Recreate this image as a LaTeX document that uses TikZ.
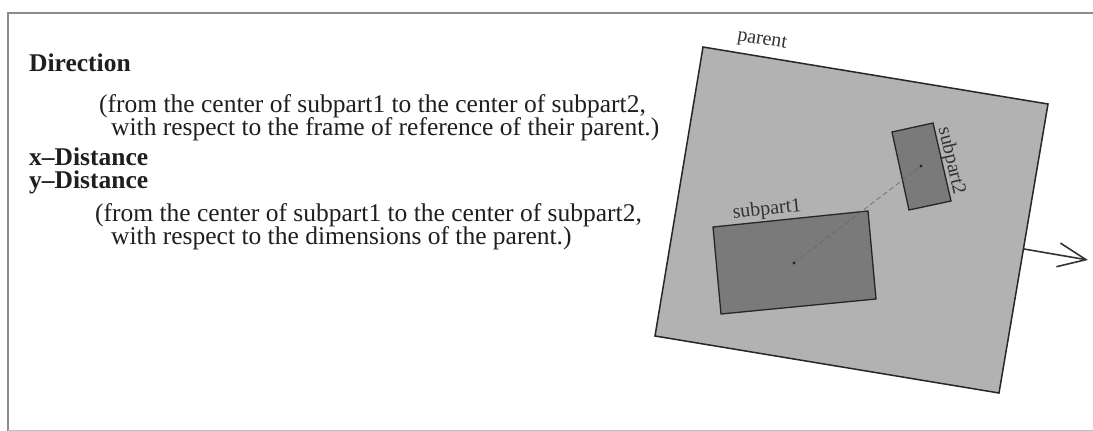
\documentclass[tikz,border=0pt]{standalone}
\usepackage{fontspec}
\setmainfont{Liberation Serif}
\usetikzlibrary{arrows.meta}
\begin{document}
\begin{tikzpicture}[x=1pt,y=-1pt,
  txt/.style={anchor=base west, inner sep=0pt, text=black!88, font=\fontsize{25.5}{28}\selectfont},
  hd/.style={anchor=base west, inner sep=0pt, text=black!88, font=\fontsize{25.5}{28}\selectfont\bfseries},
  lbl/.style={inner sep=0pt, text=black!80, font=\fontsize{20}{22}\selectfont},
  frameline/.style={draw=black!45, line width=1.2pt},
  parentbox/.style={fill=black!30, draw=black!85, line width=1.5pt, line join=miter},
  subbox/.style={fill=black!52, draw=black!85, line width=1.3pt},
  centerline/.style={draw=black!60, line width=0.6pt, dash pattern=on 5pt off 3pt},
  dirarrow/.style={draw=black!80, line width=1.6pt, -{Straight Barb[length=28pt,width=24pt]}}
]
\useasboundingbox (0,0) rectangle (1093,431);
\fill[white] (0,0) rectangle (1093,431);
% frame
\draw[frameline] (8,431) -- (8,13) -- (1093,13);
\draw[draw=black!25, line width=0.8pt] (8,430) -- (1093,430);
% text
\node[hd]  (dir) at (29,71)  {Direction};
\node[txt] (la1) at (99,112) {(from the center of subpart1 to the center of subpart2,};
\node[txt] (la2) at (111,135) {with respect to the frame of reference of their parent.)};
\node[hd]  (xd)  at (29,165) {x–Distance};
\node[hd]  (yd)  at (29,188) {y–Distance};
\node[txt] (lb1) at (95,221) {(from the center of subpart1 to the center of subpart2,};
\node[txt] (lb2) at (111,244) {with respect to the dimensions of the parent.)};
% parent
\coordinate (p1) at (703,47);
\coordinate (p2) at (1048,104);
\coordinate (p3) at (999,393);
\coordinate (p4) at (655,336);
\draw[parentbox] (p1) -- (p2) -- (p3) -- (p4) -- cycle;
% subpart1
\coordinate (s1a) at (713,227);
\coordinate (s1b) at (868,211);
\coordinate (s1c) at (876,299);
\coordinate (s1d) at (721,314);
\draw[subbox] (s1a) -- (s1b) -- (s1c) -- (s1d) -- cycle;
% subpart2
\coordinate (s2a) at (892,132);
\coordinate (s2b) at (933,123);
\coordinate (s2c) at (951,201);
\coordinate (s2d) at (909,210);
\draw[subbox] (s2a) -- (s2b) -- (s2c) -- (s2d) -- cycle;
% labels
\node[lbl, rotate=-9.4] (plab) at (762,41) {parent};
\node[lbl, rotate=6] (s1lab) at (767,210) {subpart1};
\node[lbl, rotate=-77] (s2lab) at (951,161) {subpart2};
% centers and connection
\coordinate (c1) at (794,263);
\coordinate (c2) at (921,166);
\draw[centerline] (c1) -- (c2);
\fill[black!85] (c1) circle (1.7pt);
\fill[black!85] (c2) circle (1.7pt);
% direction arrow
\coordinate (ar0) at (1024,249);
\coordinate (ar1) at (1088,260);
\draw[dirarrow] (ar0) -- (ar1);
\end{tikzpicture}
\end{document}
